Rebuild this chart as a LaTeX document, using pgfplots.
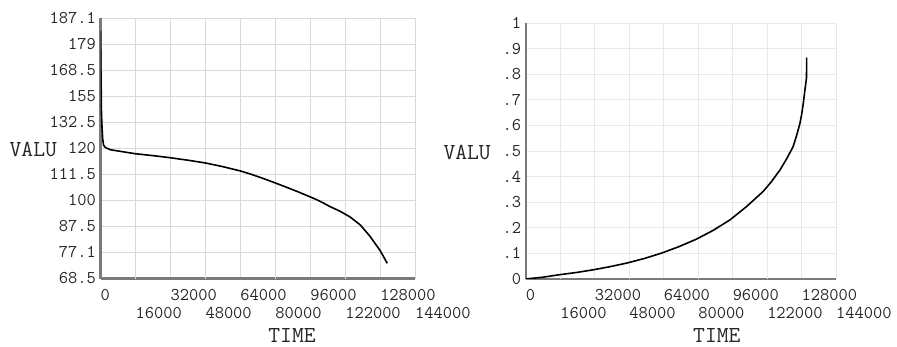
\documentclass[border=0pt]{standalone}
\usepackage{fontspec}
\usepackage{pgfplots}
\usepackage{pgfplotstable}
\pgfplotsset{compat=1.18}

\pgfplotstableread{
t v
0 183.2
150 172
300 160
450 140
700 130
1000 124.5
1400 121.5
2300 120.3
4600 119.5
9000 119.0
16000 118.2
24000 117.6
32000 116.9
40000 116.1
48000 115.2
56000 114.0
64000 112.6
68600 111.6
73800 109.9
79000 108.05
84600 106.0
90100 103.9
94600 102.1
99200 100.2
101900 98.8
105100 97.0
109700 94.75
114300 92.0
118900 88.25
123400 83.55
128000 77.9
131300 73.5
}\leftdata

\pgfplotstableread{
t v
0 0
8000 0.007
15900 0.017
24000 0.026
31400 0.036
39000 0.048
46800 0.062
55000 0.080
63000 0.101
71000 0.126
79300 0.156
87000 0.190
94800 0.231
102500 0.283
110200 0.342
114100 0.381
118000 0.426
121000 0.468
124100 0.517
125700 0.560
127200 0.606
128000 0.640
128800 0.684
129600 0.740
130300 0.785
130400 0.865
}\rightdata

\definecolor{axgray}{HTML}{7A7A7A}
\definecolor{txt}{HTML}{262626}

\pgfplotsset{
  ansys/.style={
    scale only axis,
    axis lines*=left,
    axis line style={draw=axgray, line width=2bp},
    major tick length=0pt,
    xmin=0, xmax=144000,
    scaled x ticks=false,
    scaled y ticks=false,
    xtick={0,32000,64000,96000,128000},
    xticklabels={0,32000,64000,96000,128000},
    extra x ticks={16000,48000,80000,112000,144000},
    extra x tick labels={16000,48000,80000,122000,144000},
    extra x tick style={grid=major, xticklabel style={yshift=-18bp}},
    grid=major,
    tick label style={font=\fontsize{18}{20}\selectfont\ttfamily, text=txt, inner sep=0pt},
    xticklabel style={anchor=north west, yshift=-10.5bp},
    yticklabel style={anchor=east, xshift=-4.5bp},
    label style={font=\fontsize{23}{25}\selectfont\ttfamily, text=txt, inner sep=0pt},
    xlabel={TIME},
    ylabel={VALU},
    ylabel style={rotate=-90, anchor=east},
    xlabel style={anchor=center},
  }
}

\begin{document}
\begin{tikzpicture}
\begin{axis}[ansys,
  at={(100.5bp,68.5bp)}, anchor=south west,
  width=314.5bp, height=260.5bp,
  ymin=68.5, ymax=187.1,
  y coord trafo/.code={\pgfmathparse{(#1<77.1) ? ((#1-68.5)/8.6) : ((#1<87.5) ? (1+(#1-77.1)/10.4) : ((#1<100) ? (2+(#1-87.5)/12.5) : ((#1<111.5) ? (3+(#1-100)/11.5) : ((#1<120) ? (4+(#1-111.5)/8.5) : ((#1<132.5) ? (5+(#1-120)/12.5) : ((#1<155) ? (6+(#1-132.5)/22.5) : ((#1<168.5) ? (7+(#1-155)/13.5) : ((#1<179) ? (8+(#1-168.5)/10.5) : (9+(#1-179)/8.1)))))))))}},
  ytick={68.5,77.1,87.5,100,111.5,120,132.5,155,168.5,179,187.1},
  yticklabels={68.5,77.1,87.5,100,111.5,120,132.5,155,168.5,179,187.1},
  grid style={draw=gray!30, line width=0.7bp},
  ylabel style={at={(axis description cs:-0.138,0.495)}},
  xlabel style={at={(axis description cs:0.609,-0.219)}},
]
\addplot[black, line width=1.6bp, line join=round] table[x=t, y=v] {\leftdata};
\end{axis}

\begin{axis}[ansys,
  at={(525.7bp,68bp)}, anchor=south west,
  width=310.3bp, height=256bp,
  ymin=0, ymax=1,
  ytick={0,0.1,0.2,0.3,0.4,0.5,0.6,0.7,0.8,0.9,1},
  yticklabels={0,.1,.2,.3,.4,.5,.6,.7,.8,.9,1},
  grid style={draw=gray!18, line width=0.7bp},
  ylabel style={at={(axis description cs:-0.112,0.496)}},
  xlabel style={at={(axis description cs:0.616,-0.221)}},
]
\addplot[black, line width=1.6bp, line join=round] table[x=t, y=v] {\rightdata};
\end{axis}
\pgfresetboundingbox
\useasboundingbox (0,0) rectangle (897bp,347bp);
\end{tikzpicture}
\end{document}
